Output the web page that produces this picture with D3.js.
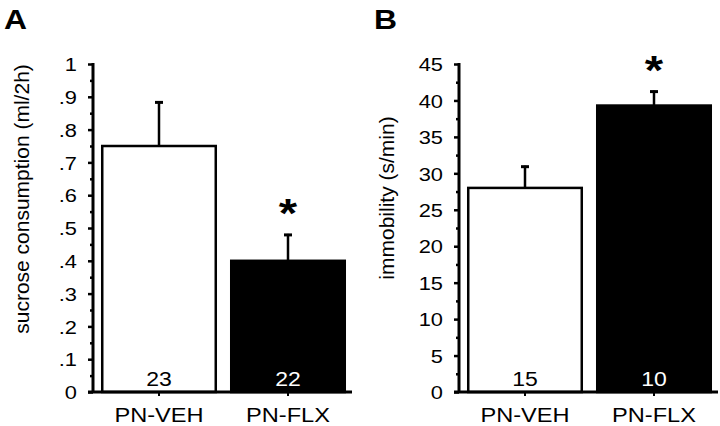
<!DOCTYPE html>
<html>
<head>
<meta charset="utf-8">
<script src="https://cdnjs.cloudflare.com/ajax/libs/d3/7.8.5/d3.min.js"></script>
<style>
  html, body { margin: 0; padding: 0; background: #fff; }
  svg { display: block; font-family: "Liberation Sans", Arial, Helvetica, sans-serif; }
</style>
</head>
<body>
<svg id="chart"></svg>
<script>
var groups = ['PN-VEH', 'PN-FLX'];

var sucroseMeans = [0.75, 0.40];
var sucroseErrors = [0.136, 0.082];
var sucroseN = [23, 22];
var sucroseTicks = [0, .1, .2, .3, .4, .5, .6, .7, .8, .9, 1];
var sucroseTickLabels = ['0', '.1', '.2', '.3', '.4', '.5', '.6', '.7', '.8', '.9', '1'];
var sucroseMinor = [.05, .15, .25, .35, .45, .55, .65, .75, .85, .95];

var immobilityMeans = [28.0, 39.3];
var immobilityErrors = [3.05, 2.05];
var immobilityN = [15, 10];
var immobilityTicks = [0, 5, 10, 15, 20, 25, 30, 35, 40, 45];
var immobilityTickLabels = ['0', '5', '10', '15', '20', '25', '30', '35', '40', '45'];
var immobilityMinor = [2.5, 7.5, 12.5, 17.5, 22.5, 27.5, 32.5, 37.5, 42.5];

var significant = [false, true];
var barFills = ['#fff', '#000'];
var countColors = ['#000', '#fff'];

var W = 720, H = 426,
    plotTop = 64, base = 392,
    stretch = 1.18;

var svg = d3.select('#chart').attr('width', W).attr('height', H);

function stretchText(sel, x, y) {
  sel.attr('x', 0).attr('y', 0)
    .attr('transform', 'translate(' + x + ',' + y + ') scale(' + stretch + ',1)');
}

function panel(opts) {
  var g = svg.append('g');
  var x0 = opts.axisX;

  var y = d3.scaleLinear().domain(opts.domain).range([base, plotTop]);
  var x = d3.scaleBand()
      .domain(groups)
      .range([x0 + 1.5, x0 + 259.5])
      .paddingInner(0.12)
      .paddingOuter(0.06);

  // panel letter
  g.append('text')
    .text(opts.letter)
    .attr('font-weight', 'bold')
    .attr('font-size', 27)
    .call(stretchText, opts.letterX, 29);

  // y title
  g.append('text')
    .text(opts.title)
    .attr('font-size', 21)
    .attr('text-anchor', 'middle')
    .attr('transform', 'translate(' + opts.titleX + ',' + opts.titleY + ') rotate(-90)');

  var data = groups.map(function(d, i){
    return { name: d, mean: opts.means[i], err: opts.errors[i], n: opts.n[i], i: i };
  });

  // error bars (drawn first so bar outline covers the stem base)
  data.forEach(function(d){
    var cx = x(d.name) + x.bandwidth() / 2;
    g.append('line')
      .attr('x1', cx).attr('x2', cx)
      .attr('y1', y(d.mean)).attr('y2', y(d.mean + d.err))
      .attr('stroke', '#000').attr('stroke-width', 2.5);
    g.append('line')
      .attr('x1', cx - 4).attr('x2', cx + 4)
      .attr('y1', y(d.mean + d.err) + 1).attr('y2', y(d.mean + d.err) + 1)
      .attr('stroke', '#000').attr('stroke-width', 3);
  });

  g.selectAll('rect.bar')
    .data(data)
    .enter()
      .append('rect')
      .attr('class', 'bar')
      .attr('x', function(d){ return x(d.name); })
      .attr('y', function(d){ return y(d.mean); })
      .attr('width', x.bandwidth())
      .attr('height', function(d){ return base - y(d.mean); })
      .attr('fill', function(d){ return barFills[d.i]; })
      .attr('stroke', '#000')
      .attr('stroke-width', 2.5);

  // n counts
  g.selectAll('text.count')
    .data(data)
    .enter()
      .append('text')
      .attr('class', 'count')
      .text(function(d){ return d.n; })
      .attr('font-size', 19.5)
      .attr('text-anchor', 'middle')
      .attr('fill', function(d){ return countColors[d.i]; })
      .each(function(d){
        d3.select(this).call(stretchText, x(d.name) + x.bandwidth() / 2, base - 6);
      });

  // asterisks
  data.forEach(function(d){
    if (!significant[d.i]) return;
    g.append('text')
      .text('*')
      .attr('font-weight', 'bold')
      .attr('font-size', 40)
      .attr('text-anchor', 'middle')
      .call(stretchText, x(d.name) + x.bandwidth() / 2, y(d.mean + d.err) - 28 + 21.5);
  });

  // y axis
  var yAxis = d3.axisLeft(y)
      .tickValues(opts.ticks)
      .tickFormat(function(d, i){ return opts.tickLabels[i]; })
      .tickSize(5)
      .tickPadding(12);

  var ya = g.append('g')
      .attr('transform', 'translate(' + x0 + ',0)')
      .call(yAxis);
  ya.select('.domain').remove();
  ya.selectAll('.tick line').attr('stroke-width', 2.5);
  ya.selectAll('.tick text')
    .attr('font-size', 18.5)
    .attr('fill', '#000')
    .attr('dy', '0.36em')
    .attr('x', -16 / stretch)
    .attr('transform', 'scale(' + stretch + ',1)');

  var minor = g.append('g')
      .attr('transform', 'translate(' + x0 + ',0)')
      .call(d3.axisLeft(y).tickValues(opts.minor).tickSize(3).tickFormat(''));
  minor.select('.domain').remove();
  minor.selectAll('.tick line').attr('stroke-width', 2.5);

  g.append('line')
    .attr('x1', x0).attr('x2', x0)
    .attr('y1', plotTop - 1).attr('y2', base)
    .attr('stroke', '#000').attr('stroke-width', 3);

  // x axis
  g.append('line')
    .attr('x1', x0 - 5).attr('x2', x0 + 259)
    .attr('y1', base).attr('y2', base)
    .attr('stroke', '#000').attr('stroke-width', 3);

  data.forEach(function(d){
    var cx = x(d.name) + x.bandwidth() / 2;
    g.append('line')
      .attr('x1', cx).attr('x2', cx)
      .attr('y1', base).attr('y2', base + 4)
      .attr('stroke', '#000').attr('stroke-width', 2);
  });

  g.selectAll('text.cat')
    .data(data)
    .enter()
      .append('text')
      .attr('class', 'cat')
      .text(function(d){ return d.name; })
      .attr('font-size', 20)
      .attr('text-anchor', 'middle')
      .each(function(d){
        d3.select(this).call(stretchText, x(d.name) + x.bandwidth() / 2, 422);
      });
}

panel({
  letter: 'A', letterX: 4, axisX: 93,
  title: 'sucrose consumption (ml/2h)', titleX: 29, titleY: 199,
  domain: [0, 1], ticks: sucroseTicks, tickLabels: sucroseTickLabels, minor: sucroseMinor,
  means: sucroseMeans, errors: sucroseErrors, n: sucroseN
});

panel({
  letter: 'B', letterX: 374, axisX: 459,
  title: 'immobility (s/min)', titleX: 394, titleY: 198,
  domain: [0, 45], ticks: immobilityTicks, tickLabels: immobilityTickLabels, minor: immobilityMinor,
  means: immobilityMeans, errors: immobilityErrors, n: immobilityN
});
</script>
</body>
</html>
